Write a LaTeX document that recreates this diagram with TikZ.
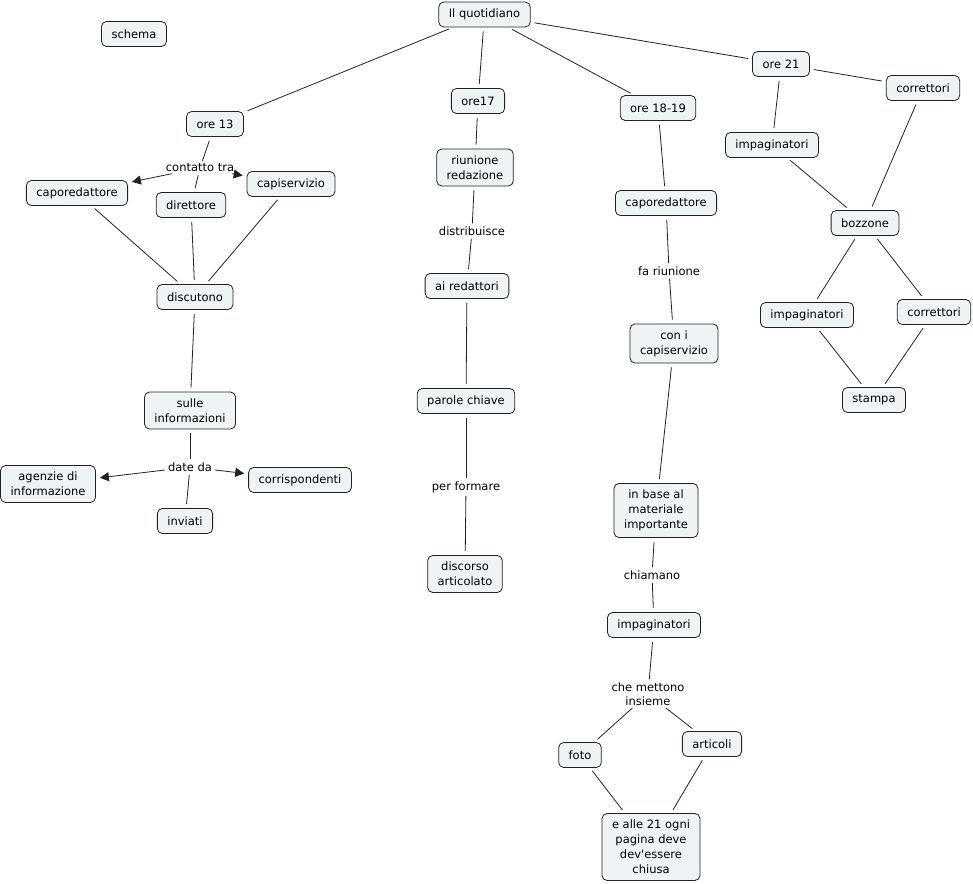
\documentclass[tikz,border=0pt]{standalone}
\usepackage{fontspec}
\setmainfont{DejaVu Sans}[Ligatures=TeXOff]
\usetikzlibrary{arrows.meta}
\definecolor{nodefill}{HTML}{EEF3F5}
\definecolor{edgecol}{HTML}{222222}
\tikzset{
  concept/.style={draw=edgecol, fill=nodefill, rounded corners=5pt, inner xsep=10pt, inner ysep=6.5pt,
    minimum height=25pt, align=center, font=\fontsize{11.5}{15}\selectfont, line width=0.8pt},
  linkphrase/.style={fill=white, inner sep=1pt, align=center, font=\fontsize{11.5}{14}\selectfont},
  conn/.style={draw=edgecol, line width=0.8pt, shorten >=4pt, shorten <=4pt},
  arr/.style={conn, -{Triangle[length=9pt,width=9pt]}}
}
\begin{document}
\begin{tikzpicture}[x=1pt,y=-1pt]
\useasboundingbox (0,0) rectangle (973,883);
% concepts
\node[concept] (schema) at (134,34) {schema};
\node[concept] (q) at (484.5,14.5) {Il quotidiano};
\node[concept] (o13) at (215,124) {ore 13};
\node[concept] (o17) at (478,101) {ore17};
\node[concept] (o1819) at (658,108) {ore 18-19};
\node[concept] (o21) at (781,64) {ore 21};
\node[concept] (corr1) at (923,88) {correttori};
\node[concept] (imp1) at (772,145) {impaginatori};
\node[concept] (bozz) at (865,223) {bozzone};
\node[concept] (imp2) at (807,315) {impaginatori};
\node[concept] (corr2) at (934,312) {correttori};
\node[concept] (stampa) at (874,400) {stampa};
\node[concept] (capL) at (77,193) {caporedattore};
\node[concept] (dir) at (191,205) {direttore};
\node[concept] (capis) at (291,184) {capiservizio};
\node[concept] (disc) at (195,297) {discutono};
\node[concept] (sulle) at (190,410.5) {sulle\\informazioni};
\node[concept] (agenz) at (48,484) {agenzie di\\informazione};
\node[concept] (corrisp) at (300,480) {corrispondenti};
\node[concept] (inv) at (185,521) {inviati};
\node[concept] (riun) at (475,167.5) {riunione\\redazione};
\node[concept] (ared) at (467,286) {ai redattori};
\node[concept] (parole) at (466,401) {parole chiave};
\node[concept] (discorso) at (465,574) {discorso\\articolato};
\node[concept] (capM) at (666,203) {caporedattore};
\node[concept] (coni) at (674,343.5) {con i\\capiservizio};
\node[concept] (inbase) at (656,510.5) {in base al\\materiale\\importante};
\node[concept] (impM) at (654,625) {impaginatori};
\node[concept] (foto) at (580,755) {foto};
\node[concept] (artic) at (712,744) {articoli};
\node[concept] (chiusa) at (651,847) {e alle 21 ogni\\pagina deve\\dev'essere\\chiusa};
% linking phrases
\node[linkphrase] (lcont) at (200,168) {contatto tra};
\node[linkphrase] (ldate) at (190,467) {date da};
\node[linkphrase] (ldist) at (472,231) {distribuisce};
\node[linkphrase] (lform) at (466,487) {per formare};
\node[linkphrase] (lfa) at (669,271) {fa riunione};
\node[linkphrase] (lchia) at (652,575) {chiamano};
\node[linkphrase] (lche) at (648,694) {che mettono\\insieme};
% connectors
\draw[conn] (q) -- (o13);
\draw[conn] (q) -- (o17);
\draw[conn] (q) -- (o1819);
\draw[conn] (q) -- (o21);
\draw[conn] (o21) -- (corr1);
\draw[conn] (o21) -- (imp1);
\draw[conn] (imp1) -- (bozz);
\draw[conn] (corr1) -- (bozz);
\draw[conn] (bozz) -- (imp2);
\draw[conn] (bozz) -- (corr2);
\draw[conn] (imp2) -- (stampa);
\draw[conn] (corr2) -- (stampa);
\draw[conn,shorten >=2pt] (o13) -- (lcont);
\draw[arr,shorten <=2pt] (lcont) -- (capL);
\draw[arr,shorten <=2pt] (lcont) -- (capis);
\draw[conn,shorten <=2pt] (lcont) -- (dir);
\draw[conn] (capL) -- (disc);
\draw[conn] (dir) -- (disc);
\draw[conn] (capis) -- (disc);
\draw[conn] (disc) -- (sulle);
\draw[conn,shorten >=2pt] (sulle) -- (ldate);
\draw[arr,shorten <=2pt] (ldate) -- (agenz);
\draw[arr,shorten <=2pt] (ldate) -- (corrisp);
\draw[conn,shorten <=2pt] (ldate) -- (inv);
\draw[conn] (o17) -- (riun);
\draw[conn,shorten >=2pt] (riun) -- (ldist);
\draw[conn,shorten <=2pt] (ldist) -- (ared);
\draw[conn] (ared) -- (parole);
\draw[conn,shorten >=2pt] (parole) -- (lform);
\draw[conn,shorten <=2pt] (lform) -- (discorso);
\draw[conn] (o1819) -- (capM);
\draw[conn,shorten >=2pt] (capM) -- (lfa);
\draw[conn,shorten <=2pt] (lfa) -- (coni);
\draw[conn] (coni) -- (inbase);
\draw[conn,shorten >=2pt] (inbase) -- (lchia);
\draw[conn,shorten <=2pt] (lchia) -- (impM);
\draw[conn,shorten >=2pt] (impM) -- (lche);
\draw[conn,shorten <=2pt] (lche) -- (foto);
\draw[conn,shorten <=2pt] (lche) -- (artic);
\draw[conn] (foto) -- (chiusa);
\draw[conn] (artic) -- (chiusa);
\end{tikzpicture}
\end{document}
